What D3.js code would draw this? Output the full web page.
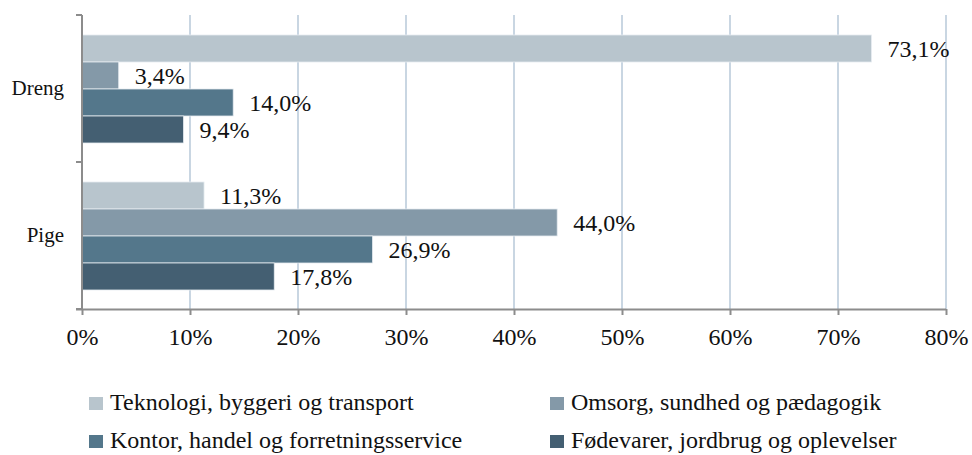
<!DOCTYPE html>
<html><head><meta charset="utf-8"><script src="https://cdn.jsdelivr.net/npm/d3@7"></script></head><body style="margin:0">
<svg id="c" width="972" height="455" style="font-family:'Liberation Serif','Times New Roman',serif"></svg>
<script>
const categories = ["Dreng", "Pige"];
const seriesNames = ["Teknologi, byggeri og transport", "Omsorg, sundhed og pædagogik", "Kontor, handel og forretningsservice", "Fødevarer, jordbrug og oplevelser"];
const seriesColors = ["#B8C5CD", "#8499A8", "#54778B", "#445F72"];
const drengValues = [73.1, 3.4, 14.0, 9.4];
const pigeValues = [11.3, 44.0, 26.9, 17.8];
const xTicks = [0, 10, 20, 30, 40, 50, 60, 70, 80];

const values = {Dreng: drengValues, Pige: pigeValues};
const svg = d3.select("#c");
const FF = "Liberation Serif";
const pLeft = 82, pRight = 946, pTop = 15, pBottom = 309;

const x = d3.scaleLinear().domain([0, 80]).range([pLeft, pRight]);
const y = d3.scaleBand().domain(categories).range([pTop, pBottom]).padding(0);
const inner = d3.scaleBand().domain(d3.range(seriesNames.length)).range([20, y.bandwidth() - 19]).padding(0);

function serif(sel, size) {
  sel.attr("font-family", FF).style("font-family", `"${FF}"`).style("font-size", size + "px").attr("font-size", size);
  return sel;
}

// gridlines
svg.append("g").selectAll("line").data(xTicks.slice(1)).join("line")
  .attr("x1", d => x(d)).attr("x2", d => x(d)).attr("y1", pTop).attr("y2", pBottom)
  .attr("stroke", "#C9D6E2").attr("stroke-width", 2);

// bars
const fmt = v => v.toFixed(1).replace(".", ",") + "%";
categories.forEach(cat => {
  const g = svg.append("g").attr("transform", `translate(0,${y(cat)})`);
  g.selectAll("rect").data(values[cat]).join("rect")
    .attr("x", x(0)).attr("y", (d, i) => inner(i))
    .attr("width", d => x(d) - x(0)).attr("height", inner.bandwidth())
    .attr("fill", (d, i) => seriesColors[i])
    .attr("stroke", "#E6ECF0").attr("stroke-width", 0.8);
  const t = g.selectAll("text").data(values[cat]).join("text")
    .attr("x", d => x(d) + 16).attr("y", (d, i) => inner(i) + inner.bandwidth() / 2 + 8)
    .attr("fill", "#111").text(d => fmt(d));
  serif(t, 24);
});

// x axis
const xAxis = d3.axisBottom(x).tickValues(xTicks).tickSize(6).tickPadding(11).tickFormat(d => d + "%");
const gx = svg.append("g").attr("transform", `translate(0,${pBottom})`).call(xAxis);
gx.attr("font-family", FF);
gx.select(".domain").attr("stroke", "#8C8C8C").attr("stroke-width", 2).attr("d", `M${pLeft - 6},0.5H${pRight}`);
gx.selectAll(".tick line").attr("stroke", "#8C8C8C").attr("stroke-width", 2);
serif(gx.selectAll("text"), 24).attr("fill", "#111").attr("dy", "0.8em");

// y axis
const yAxis = d3.axisLeft(y).tickSize(0).tickPadding(18);
const gy = svg.append("g").attr("transform", `translate(${pLeft},0)`).call(yAxis);
gy.attr("font-family", FF);
gy.select(".domain").attr("stroke", "#8C8C8C").attr("stroke-width", 2).attr("d", `M0,${pTop}V${pBottom}`);
serif(gy.selectAll("text"), 21).attr("fill", "#111");
gy.selectAll(".bt").data([pTop, y("Pige"), pBottom]).join("line").attr("class", "bt")
  .attr("x1", -6).attr("x2", 0).attr("y1", d => d).attr("y2", d => d)
  .attr("stroke", "#8C8C8C").attr("stroke-width", 2);

// legend
const legPos = [[89, 410], [550, 410], [89, 448], [550, 448]];
const lg = svg.append("g").selectAll("g").data(seriesNames).join("g")
  .attr("transform", (d, i) => `translate(${legPos[i][0]},${legPos[i][1]})`);
lg.append("rect").attr("x", 0).attr("y", -13).attr("width", 14).attr("height", 13).attr("fill", (d, i) => seriesColors[i]);
serif(lg.append("text").attr("x", 21).attr("y", 0).attr("fill", "#111").text(d => d), 24);
</script></body></html>
